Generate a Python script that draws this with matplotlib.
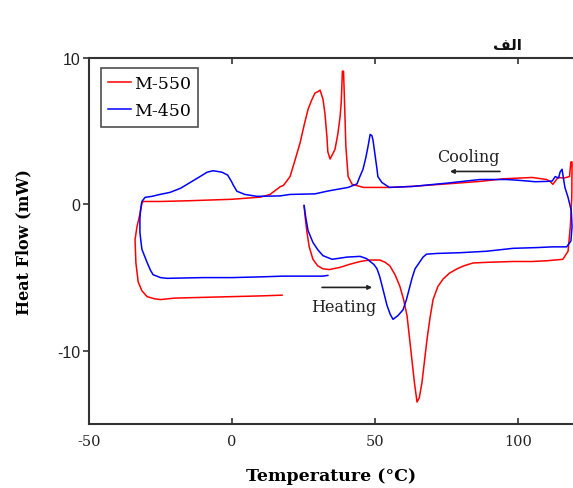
import matplotlib
matplotlib.use("Agg")
import matplotlib.pyplot as plt

# ---- data ----
red_x = [25.2, 25.6, 26.2, 27.0, 28.3, 30.0, 31.8, 34.0, 37.8, 41.0, 44.8, 48.0, 51.7, 53.5, 55.2,
         57.0, 58.7, 60.0, 61.2, 62.0, 62.9, 63.8, 64.7, 65.5, 66.4, 67.3, 68.2, 69.2, 70.3, 72.0,
         73.8, 76.0, 78.7, 81.0, 84.3, 90.0, 98.3, 105.0, 110.0, 115.7, 117.5, 118.3, 118.8, 118.9,
         118.5, 118.0, 116.0, 114.0, 112.2, 111.2, 110.0, 105.0, 95.0, 86.7, 75.0, 63.0, 55.0, 46.0,
         42.0, 40.6, 39.8, 39.5, 39.0, 38.6, 38.2, 37.8, 37.0, 36.0, 34.3, 33.5, 33.2, 32.5, 31.8,
         30.8, 30.0, 29.0, 27.8, 26.6, 25.2, 23.8, 22.0, 20.3, 18.0, 16.8, 13.3, 10.0, 8.7, 0.0,
         -15.0, -25.0, -31.0, -31.5, -32.0, -33.2, -33.9, -33.6, -32.8, -31.5, -29.7, -27.0, -25.0,
         -20.0, -10.0, 0.0, 10.0, 17.5]
red_y = [-0.1, -0.9, -1.9, -2.9, -3.75, -4.2, -4.4, -4.45, -4.3, -4.1, -3.9, -3.8, -3.8, -3.95, -4.2,
         -4.8, -5.6, -6.5, -7.6, -9.0, -10.6, -12.2, -13.5, -13.2, -12.2, -10.7, -9.2, -7.8, -6.5, -5.6,
         -5.1, -4.7, -4.4, -4.2, -4.0, -3.95, -3.9, -3.9, -3.85, -3.75, -3.2, -1.5, 0.5, 2.9,
         2.9, 1.9, 1.8, 1.84, 1.37, 1.57, 1.7, 1.84, 1.75, 1.57, 1.4, 1.23, 1.16, 1.16,
         1.37, 1.9, 4.0, 6.0, 9.1, 9.1, 7.0, 6.0, 4.8, 3.75, 3.1, 3.6, 4.6, 6.2, 7.2,
         7.8, 7.7, 7.6, 7.1, 6.5, 5.4, 4.2, 3.0, 1.9, 1.3, 1.2, 0.68, 0.5, 0.48, 0.35,
         0.25, 0.2, 0.2, 0.1, -0.5, -1.5, -2.4, -4.0, -5.3, -5.9, -6.3, -6.45, -6.5,
         -6.4, -6.35, -6.3, -6.25, -6.2]

blue_x = [25.2, 25.8, 26.6, 28.3, 30.0, 31.8, 35.0, 40.2, 44.8, 47.0, 48.3, 49.6, 50.7, 51.6, 52.4,
          53.3, 54.2, 55.3, 56.3, 58.0, 59.8, 61.0, 62.2, 63.0, 64.0, 66.8, 68.0, 71.7, 79.7, 89.0,
          98.3, 106.6, 112.0, 117.0, 118.5, 118.9, 118.6, 117.5, 116.4, 115.8, 115.4, 114.7, 114.2,
          113.0, 112.0, 110.0, 106.0, 100.0, 96.0, 86.7, 75.0, 63.3, 55.0, 52.4, 51.7, 51.0, 50.7,
          50.0, 49.3, 48.9, 48.3, 47.6, 46.8, 45.8, 44.5, 43.7, 40.6, 36.0, 33.2, 29.0, 20.3, 16.8,
          8.7, 4.5, 1.7, 0.3, 0.0, -1.5, -3.5, -6.6, -8.7, -11.2, -15.7, -18.0, -21.7, -25.2, -28.0,
          -30.4, -31.5, -32.0, -32.2, -32.2, -31.8, -31.5, -29.7, -28.5, -27.6, -25.0, -22.7, -10.0,
          0.0, 10.0, 17.8, 25.0, 31.8, 33.5]
blue_y = [-0.07, -0.9, -1.8, -2.6, -3.1, -3.5, -3.75, -3.6, -3.55, -3.7, -3.9, -4.1, -4.4, -4.9, -5.5,
          -6.2, -6.9, -7.5, -7.85, -7.6, -7.2, -6.5, -5.6, -5.0, -4.4, -3.6, -3.4, -3.35, -3.3, -3.2,
          -3.0, -2.95, -2.9, -2.9, -2.5, -1.5, -0.4, 0.48, 1.16, 1.9, 2.4, 2.2, 1.8,
          1.9, 1.6, 1.57, 1.55, 1.65, 1.7, 1.7, 1.45, 1.23, 1.16, 1.5, 1.7, 1.9, 2.4,
          3.4, 4.4, 4.7, 4.78, 4.0, 3.2, 2.4, 1.8, 1.4, 1.16, 1.0, 0.9, 0.72, 0.68, 0.58,
          0.55, 0.68, 0.9, 1.37, 1.5, 2.0, 2.2, 2.3, 2.2, 1.9, 1.37, 1.1, 0.82, 0.68, 0.55,
          0.48, 0.2, -0.4, -1.0, -1.9, -2.6, -3.07, -3.96, -4.5, -4.8, -5.0, -5.05, -5.0,
          -5.0, -4.95, -4.9, -4.9, -4.9, -4.85]

series_labels = ["M-550", "M-450"]
x_ticks = [-50, 0, 50, 100]
y_ticks = [-10, 0, 10]

# ---- figure ----
W, H = 573, 489
fig = plt.figure(figsize=(W / 100, H / 100), dpi=100)
left, right, bottom, top = 89, 573, 425, 59
ax = fig.add_axes([left / W, 1 - bottom / H, (right - left) / W, (bottom - top) / H])

ax.plot(red_x, red_y, color="#ff0000", lw=1.1, label=series_labels[0])
ax.plot(blue_x, blue_y, color="#0000ff", lw=1.1, label=series_labels[1])

ax.set_xlim(-50, -50 + (right - left) / 2.86)
ax.set_ylim(-15, 10)
ax.set_xticks(x_ticks)
ax.set_yticks(y_ticks)
ax.set_xticklabels([str(t) for t in x_ticks], family="DejaVu Serif", fontsize=10.5, color="#222")
ax.set_yticklabels([str(t) for t in y_ticks], family="Liberation Sans", fontsize=11.5, color="#222")
ax.tick_params(axis="x", direction="in", top=True, length=4, width=1.2, color="#333", pad=7)
ax.tick_params(axis="y", direction="out", length=4, width=1.2, color="#333", pad=2)
for s in ax.spines.values():
    s.set_linewidth(1.5)
    s.set_color("#333")
ax.spines["right"].set_visible(False)

ax.set_xlabel("Temperature (°C)", family="DejaVu Serif", fontweight="bold", fontsize=12.5, labelpad=14)
ax.set_ylabel("Heat Flow (mW)", family="DejaVu Serif", fontweight="bold", fontsize=11.5, labelpad=18)

leg = ax.legend(loc="upper left", bbox_to_anchor=(3 / (right - left), 1 - 1 / (bottom - top)),
                frameon=True, fancybox=False, edgecolor="#222", handlelength=1.3, handletextpad=0.15,
                borderpad=0.45, labelspacing=0.55, prop={"family": "DejaVu Serif", "size": 12.5})
leg.get_frame().set_linewidth(1.2)

# annotations
ax.text(82.5, 3.3, "Cooling", family="DejaVu Serif", fontsize=11.5, ha="center", va="center", color="#222")
ax.annotate("", xy=(76.2, 2.25), xytext=(93.7, 2.25),
            arrowprops=dict(arrowstyle="-|>", lw=1.2, color="#222", mutation_scale=6, shrinkA=0, shrinkB=0))
ax.text(39.2, -7.0, "Heating", family="DejaVu Serif", fontsize=11.5, ha="center", va="center", color="#222")
ax.annotate("", xy=(49.0, -5.67), xytext=(31.5, -5.67),
            arrowprops=dict(arrowstyle="-|>", lw=1.2, color="#222", mutation_scale=6, shrinkA=0, shrinkB=0))

# title (Arabic "الف", written in its shaped, visual-order form)
fig.text(507 / W, 1 - 45 / H, "\uFED2\uFEDF\u0627", family=["DejaVu Sans"], fontweight="bold",
         fontsize=11, ha="center", va="center", color="#111")

fig.savefig("out.png", dpi=100)
